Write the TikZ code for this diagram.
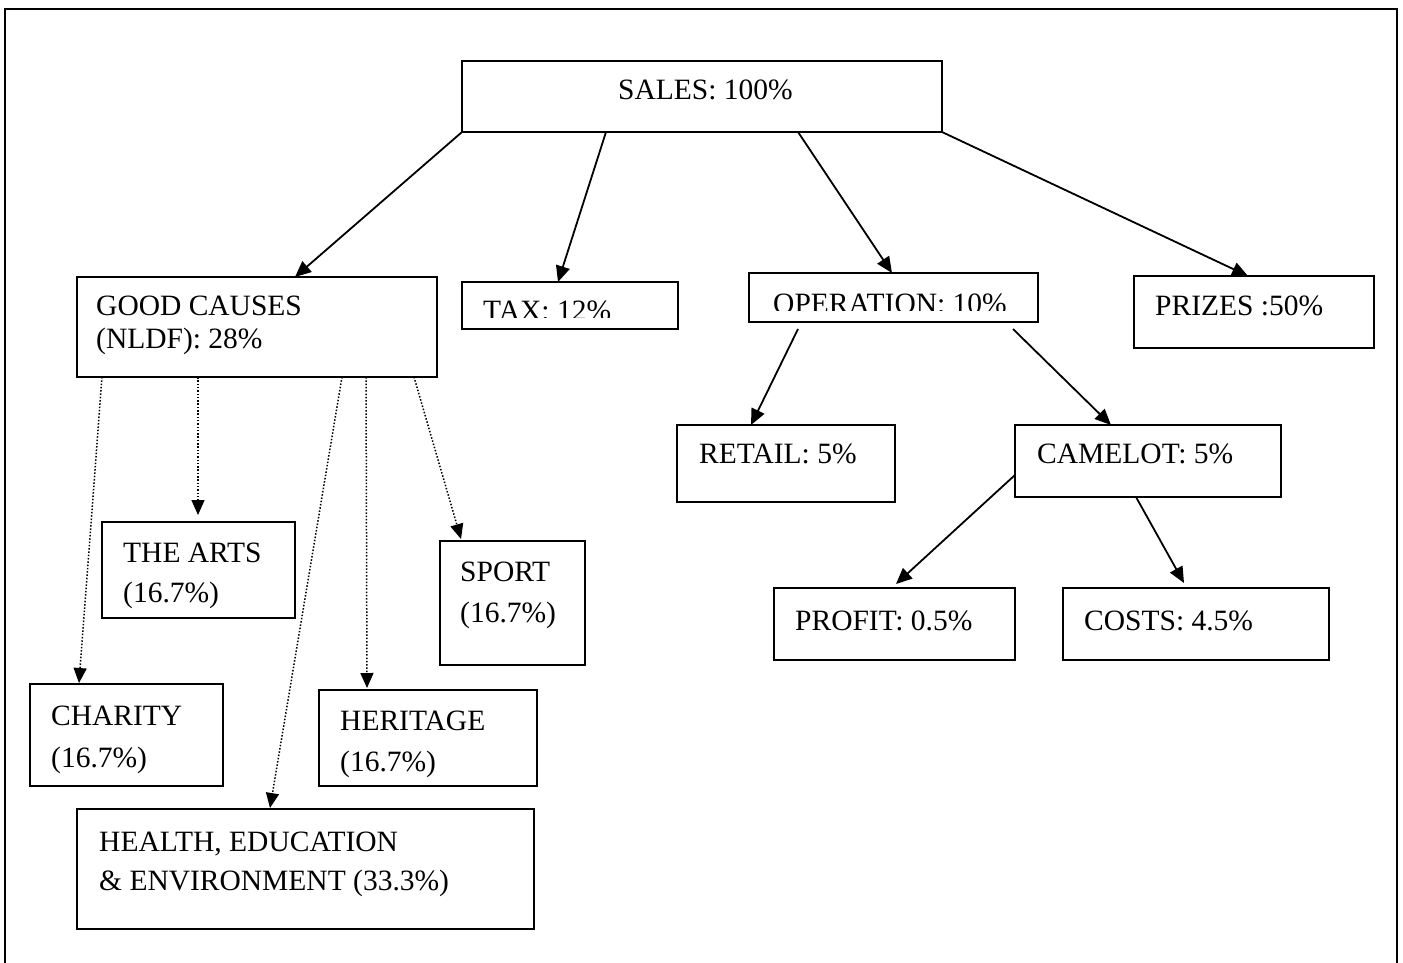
\documentclass[tikz,border=0pt]{standalone}
\usepackage{fontspec}
\setmainfont{Liberation Serif}
\usetikzlibrary{arrows.meta}
\begin{document}
\begin{tikzpicture}[x=1pt,y=-1pt,
  box/.style={draw,line width=2pt,inner sep=0pt,outer sep=0pt},
  txt/.style={anchor=base west,inner sep=0pt,font=\fontsize{29.5}{36}\selectfont},
  arr/.style={line width=1.8pt,-{Triangle[length=16pt,width=14pt]}},
  dotarr/.style={line width=1.5pt,dash pattern=on 1.5pt off 1.8pt,-{Triangle[length=15pt,width=13pt]}}]
\path[use as bounding box] (0,0) rectangle (1403,962);
\draw[line width=2.4pt] (5,980) |- (1397,9) -- (1397,980);

% boxes
\node[box,minimum width=480pt,minimum height=71pt] (sales) at (702,96.5) {};
\node[box,minimum width=360pt,minimum height=100pt] (good) at (257,327) {};
\node[box,minimum width=216pt,minimum height=47pt] (tax) at (570,305.5) {};
\node[box,minimum width=289pt,minimum height=49pt] (oper) at (893.5,297.5) {};
\node[box,minimum width=240pt,minimum height=72pt] (prizes) at (1254,312) {};
\node[box,minimum width=218pt,minimum height=77pt] (retail) at (786,463.5) {};
\node[box,minimum width=266pt,minimum height=72pt] (camelot) at (1148,461) {};
\node[box,minimum width=241pt,minimum height=72pt] (profit) at (894.5,624) {};
\node[box,minimum width=266pt,minimum height=72pt] (costs) at (1196,624) {};
\node[box,minimum width=193pt,minimum height=96pt] (arts) at (198.5,570) {};
\node[box,minimum width=145pt,minimum height=124pt] (sport) at (512.5,603) {};
\node[box,minimum width=193pt,minimum height=102pt] (charity) at (126.5,735) {};
\node[box,minimum width=218pt,minimum height=96pt] (heritage) at (428,738) {};
\node[box,minimum width=457pt,minimum height=120pt] (health) at (305.5,869) {};

% texts
\node[txt] (salesT) at (618,99) {SALES: 100\%};
\node[txt] (goodT1) at (96,315) {GOOD CAUSES};
\node[txt] (goodT2) at (96,348) {(NLDF): 28\%};
\begin{scope}
\clip (tax.north west) rectangle (678,317.5);
\node[txt] (taxT) at (483,320) {TAX: 12\%};
\end{scope}
\begin{scope}
\clip (oper.north west) rectangle (1038,310);
\node[txt] (operT) at (773,313) {OPERATION: 10\%};
\end{scope}
\node[txt] (prizesT) at (1155,315) {PRIZES :50\%};
\node[txt] (retailT) at (699,463) {RETAIL: 5\%};
\node[txt] (camelotT) at (1037,463) {CAMELOT: 5\%};
\node[txt] (profitT) at (795,630) {PROFIT: 0.5\%};
\node[txt] (costsT) at (1084,630) {COSTS: 4.5\%};
\node[txt] (artsT1) at (123,562) {THE ARTS};
\node[txt] (artsT2) at (123,602) {(16.7\%)};
\node[txt] (sportT1) at (460,581) {SPORT};
\node[txt] (sportT2) at (460,622) {(16.7\%)};
\node[txt] (charityT1) at (51,725) {CHARITY};
\node[txt] (charityT2) at (51,767) {(16.7\%)};
\node[txt] (heritageT1) at (340,730) {HERITAGE};
\node[txt] (heritageT2) at (340,771) {(16.7\%)};
\node[txt] (healthT1) at (99,851) {HEALTH, EDUCATION};
\node[txt] (healthT2) at (99,890) {\& ENVIRONMENT (33.3\%)};

% solid arrows
\draw[arr] (sales.south west) -- ([xshift=218pt]good.north west);
\draw[arr] ([xshift=144pt]sales.south west) -- ([xshift=96pt]tax.north west);
\draw[arr] ([xshift=336pt]sales.south west) -- ([xshift=143pt]oper.north west);
\draw[arr] (sales.south east) -- ([xshift=114pt]prizes.north west);
\draw[arr] ([xshift=49pt,yshift=-7pt]oper.south west) -- ([xshift=74pt]retail.north west);
\draw[arr] ([xshift=264pt,yshift=-7pt]oper.south west) -- ([xshift=96pt]camelot.north west);
\draw[arr] ([yshift=-14pt]camelot.west) -- ([xshift=122pt,yshift=4pt]profit.north west);
\draw[arr] ([xshift=121pt]camelot.south west) -- ([xshift=121pt,yshift=5pt]costs.north west);

% dotted arrows
\draw[dotarr] ([xshift=25pt]good.south west) -- ([xshift=49pt,yshift=1pt]charity.north west);
\draw[dotarr] ([xshift=121pt]good.south west) -- ([xshift=96pt,yshift=7pt]arts.north west);
\draw[dotarr] ([xshift=265pt]good.south west) -- ([xshift=193pt,yshift=1pt]health.north west);
\draw[dotarr] ([xshift=289pt]good.south west) -- ([xshift=48pt,yshift=2pt]heritage.north west);
\draw[dotarr] ([xshift=337pt]good.south west) -- ([xshift=21pt,yshift=2pt]sport.north west);
\end{tikzpicture}
\end{document}
